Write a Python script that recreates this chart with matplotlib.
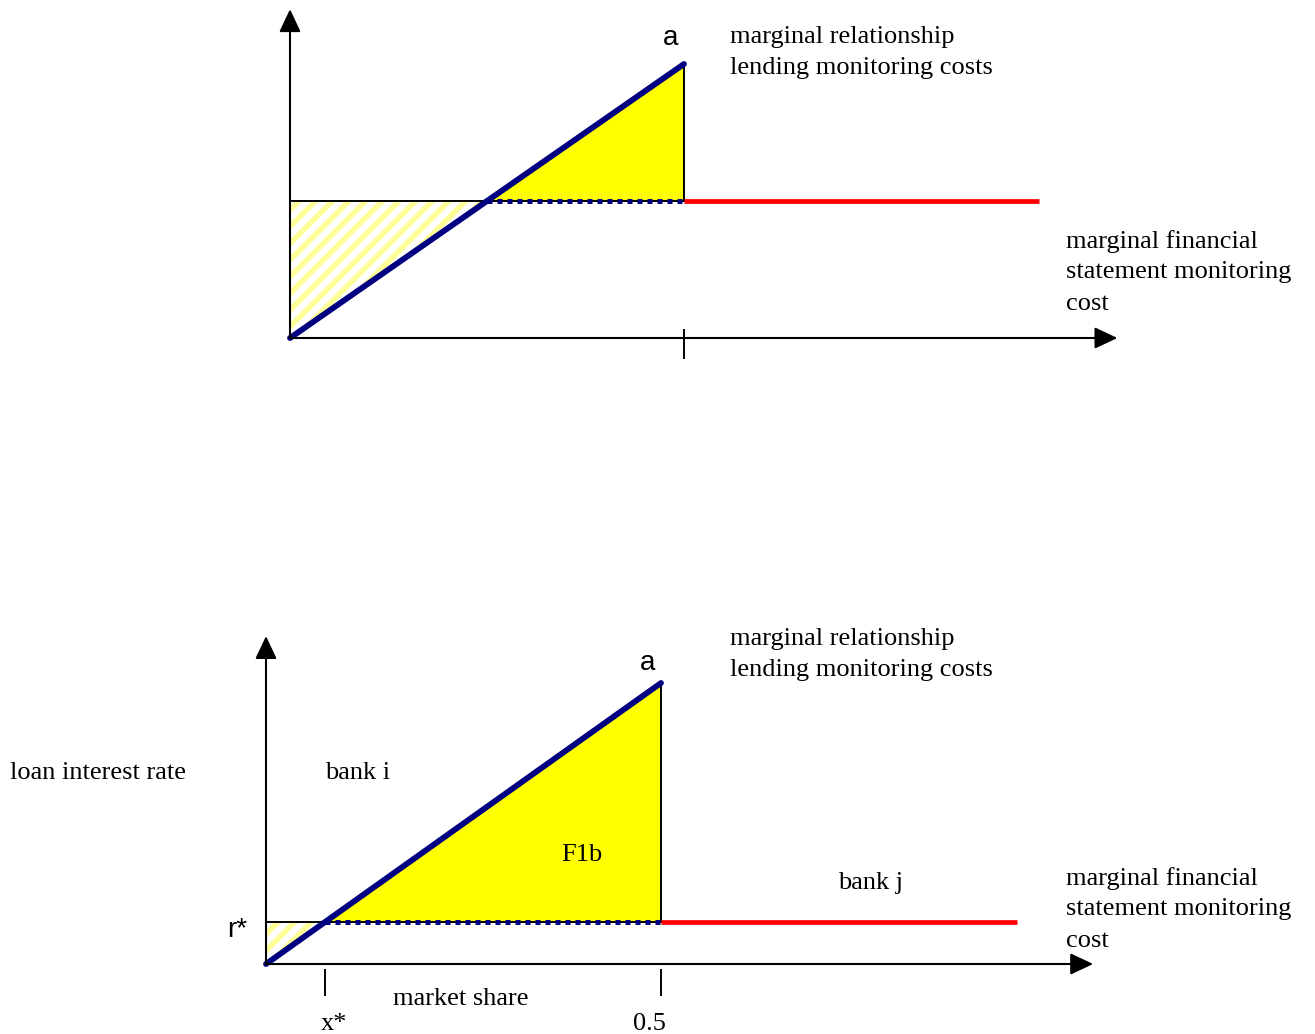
import matplotlib
matplotlib.use("Agg")
import matplotlib.pyplot as plt
from matplotlib.patches import Polygon, FancyArrowPatch

W, H = 1315, 1034
plt.rcParams['hatch.linewidth'] = 4.0

# ---- data (diagram parameters) ----
slope_a = [0.0, 1.0]            # relationship cost at x=0 and x=0.5 (a)
half_share = 0.5                # market share 0.5
end_share = 0.95                # end of bank j's flat cost line
top_rstar = 0.5                 # flat financial-statement cost level, top panel
bot_rstar = 0.15                # flat financial-statement cost level (r*), bottom panel
top_axis = [1.05, 1.20]         # axis extents (x, y) top panel
bot_axis = [1.047, 1.167]       # axis extents (x, y) bottom panel

NAVY = '#000080'
RED = '#ff0000'
YEL = '#ffff00'
HATCH = '#ffff99'
SERIF = ['Liberation Serif', 'DejaVu Serif']
SANS = ['Liberation Sans', 'DejaVu Sans']

fig = plt.figure(figsize=(W / 100, H / 100), dpi=100)


def make_axes(ox, oy, sx, sy, top_px, bot_px):
    ax = fig.add_axes([0, 1 - bot_px / H, 1, (bot_px - top_px) / H])
    ax.set_xlim(-ox / sx, (W - ox) / sx)
    ax.set_ylim((oy - bot_px) / sy, (oy - top_px) / sy)
    ax.axis('off')
    return ax


def panel(ax, rstar, axis_ext, tick_y, ticks_x):
    xa = half_share
    a = slope_a[1]
    xstar = xa * rstar / a
    ax.add_patch(Polygon([[xstar, rstar], [xa, a], [xa, rstar]], closed=True,
                         facecolor=YEL, edgecolor='none', zorder=1))
    ax.add_patch(Polygon([[0, 0], [0, rstar], [xstar, rstar]], closed=True,
                         facecolor='none', edgecolor=HATCH, linewidth=0,
                         hatch='//', zorder=1))
    ax.plot([0, xa], [rstar, rstar], color='black', lw=1.4, zorder=2)
    ax.plot([xa, xa], [rstar, a], color='black', lw=1.4, zorder=2)
    ax.plot([xstar, xa], [rstar, rstar], color=NAVY, lw=3.6,
            linestyle=(0, (1, 1)), dash_capstyle='butt', zorder=3)
    ax.plot([xa, end_share], [rstar, rstar], color=RED, lw=3.4,
            solid_capstyle='butt', zorder=3)
    ax.plot([0, xa], slope_a, color=NAVY, lw=4.2, solid_capstyle='round', zorder=4)
    for end in ([axis_ext[0], 0], [0, axis_ext[1]]):
        ax.add_patch(FancyArrowPatch((0, 0), tuple(end),
                                     arrowstyle='-|>,head_length=0.7,head_width=0.33',
                                     mutation_scale=20, color='black', lw=1.5,
                                     shrinkA=0, shrinkB=0, zorder=5))
    for tx in ticks_x:
        ax.plot([tx, tx], tick_y, color='black', lw=1.4, zorder=5)
    return xstar


def ftext(px, py, s, family=SERIF, size=19, ha='left', va='center'):
    fig.text(px / W, 1 - py / H, s, family=family, fontsize=size, ha=ha, va=va)


# ---- top panel ----
ax1 = make_axes(290, 338, 788, 274, 0, 510)
panel(ax1, top_rstar, top_axis, [0.029, -0.073], [half_share])

# ---- bottom panel ----
ax2 = make_axes(266, 964, 790, 281, 515, H)
panel(ax2, bot_rstar, bot_axis, [-0.021, -0.110], [half_share * bot_rstar, half_share])

# ---- text ----
ftext(671, 38, 'a', family=SANS, size=20, ha='center')
ftext(730, 37, 'marginal relationship')
ftext(730, 68, 'lending monitoring costs')
ftext(1066, 242, 'marginal financial')
ftext(1066, 272, 'statement monitoring')
ftext(1066, 304, 'cost')

ftext(648, 663, 'a', family=SANS, size=20, ha='center')
ftext(730, 639, 'marginal relationship')
ftext(730, 670, 'lending monitoring costs')
ftext(10, 773, 'loan interest rate')
ftext(325, 773, 'bank i')
ftext(582, 855, 'F1b', ha='center')
ftext(838, 883, 'bank j')
ftext(1066, 879, 'marginal financial')
ftext(1066, 909, 'statement monitoring')
ftext(1066, 941, 'cost')
ftext(247, 930, 'r*', family=SANS, size=20, ha='right')
ftext(393, 999, 'market share')
ftext(334, 1024, 'x*', ha='center')
ftext(649, 1024, '0.5', ha='center')

fig.savefig('out.png', dpi=100)
